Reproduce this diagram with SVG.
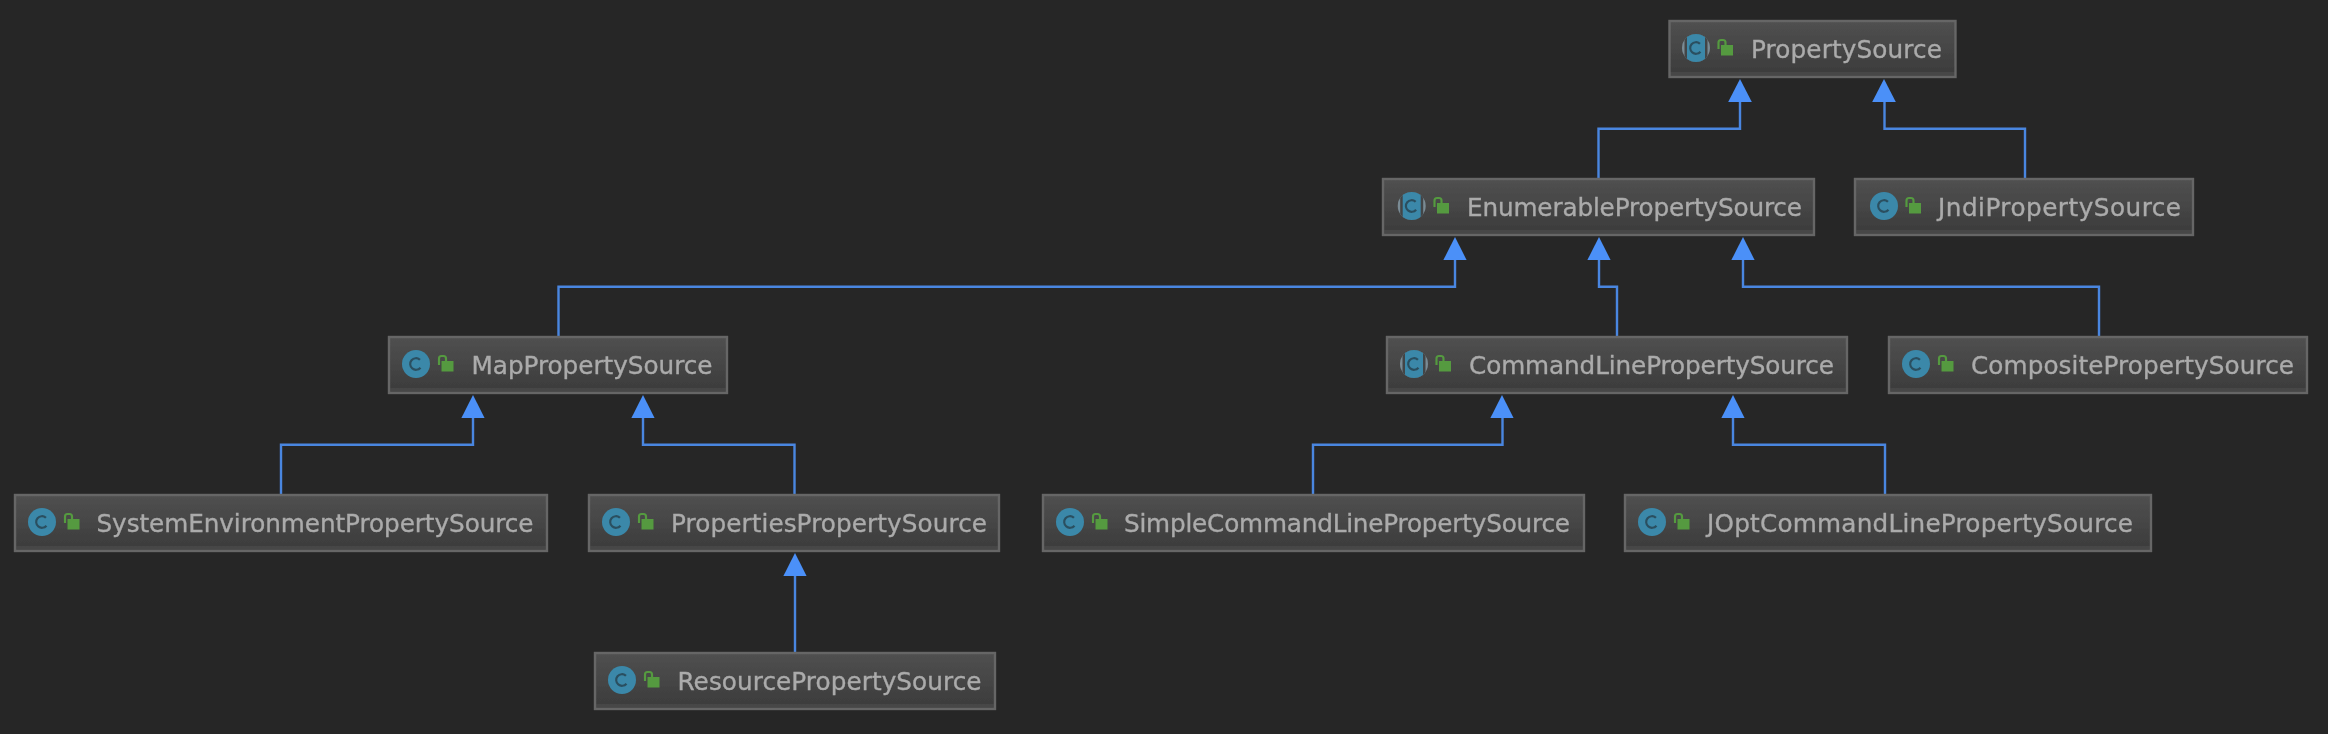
<svg xmlns="http://www.w3.org/2000/svg" width="2328" height="734" viewBox="0 0 2328 734">
<style>
.box{fill:url(#boxfill);stroke:#666666;stroke-width:2.4}
.label{font-family:"DejaVu Sans","Liberation Sans",sans-serif;font-size:24.7px;fill:#ababab;stroke:#ababab;stroke-width:0.35}
.edge{fill:none;stroke:#4a86e0;stroke-width:2.4}
.head{fill:#4b90f8}
.soft{filter:url(#soft)}
</style>
<defs>
<linearGradient id="boxfill" x1="0" y1="0" x2="0" y2="1">
<stop offset="0" stop-color="#505050"/>
<stop offset="0.9" stop-color="#3d3d3d"/>
<stop offset="0.92" stop-color="#464646"/>
<stop offset="1" stop-color="#464646"/>
</linearGradient>
<filter id="soft" filterUnits="userSpaceOnUse" x="0" y="0" width="2328" height="734">
<feGaussianBlur stdDeviation="0.6"/>
</filter>
<clipPath id="disc"><circle r="14"/></clipPath>
<g id="lock">
<rect x="4" y="-3" width="12" height="10.5" fill="#549a3f"/>
<path d="M1.5 1V-5.5Q1.5 -8 4 -8H6Q8.5 -8 8.5 -5.5V-3" fill="none" stroke="#549a3f" stroke-width="2.2"/>
</g>
<g id="cls">
<circle r="14" fill="#3a88a9"/>
<circle r="5.8" fill="none" stroke="#2c4f60" stroke-width="2.2" stroke-dasharray="27 9.5" transform="rotate(40)"/>
</g>
<g id="abs">
<circle r="14" fill="#7a8b94"/>
<g clip-path="url(#disc)">
<rect x="-11.5" y="-14" width="23" height="28" fill="#434547"/>
<rect x="-9" y="-14" width="18" height="28" fill="#3a88a9"/>
</g>
<circle r="5.8" fill="none" stroke="#2c4f60" stroke-width="2.2" stroke-dasharray="27 9.5" transform="rotate(40)"/>
</g>
</defs>
<rect width="2328" height="734" fill="#262626"/>
<g id="connectors" class="soft">
<path class="edge" d="M1598.5 178V128.7H1740V100"/><polygon class="head" points="1740,79 1751.8,102 1728.2,102"/>
<path class="edge" d="M2025 178V128.7H1884.5V100"/><polygon class="head" points="1884,79 1895.8,102 1872.2,102"/>
<path class="edge" d="M558.5 336V286.7H1455V258"/><polygon class="head" points="1455,237 1466.6,260 1443.4,260"/>
<path class="edge" d="M1617 336V286.7H1599V258"/><polygon class="head" points="1599,237 1610.6,260 1587.4,260"/>
<path class="edge" d="M2099 336V286.7H1743V258"/><polygon class="head" points="1743,237 1754.6,260 1731.4,260"/>
<path class="edge" d="M281 494V444.7H473V416"/><polygon class="head" points="473,395 484.6,418 461.4,418"/>
<path class="edge" d="M794.5 494V444.7H643V416"/><polygon class="head" points="643,395 654.6,418 631.4,418"/>
<path class="edge" d="M1313 494V444.7H1502.5V416"/><polygon class="head" points="1502,395 1513.6,418 1490.4,418"/>
<path class="edge" d="M1885 494V444.7H1733V416"/><polygon class="head" points="1733,395 1744.6,418 1721.4,418"/>
<path class="edge" d="M795 652V574"/><polygon class="head" points="795,553 806.6,576 783.4,576"/>
</g>
<g id="nodes" class="soft">
<g id="PropertySource"><rect class="box" x="1669.5" y="21" width="286" height="56"/><use href="#abs" x="1696" y="48"/><use href="#lock" x="1717" y="48"/><text class="label" x="1751" y="58" textLength="191">PropertySource</text></g>
<g id="EnumerablePropertySource"><rect class="box" x="1383" y="179" width="431" height="56"/><use href="#abs" x="1411.7" y="206"/><use href="#lock" x="1433" y="206"/><text class="label" x="1467" y="216" textLength="335">EnumerablePropertySource</text></g>
<g id="JndiPropertySource"><rect class="box" x="1855" y="179" width="338" height="56"/><use href="#cls" x="1884" y="206"/><use href="#lock" x="1905" y="206"/><text class="label" x="1938" y="216" textLength="243">JndiPropertySource</text></g>
<g id="MapPropertySource"><rect class="box" x="389" y="337" width="338" height="56"/><use href="#cls" x="416" y="364"/><use href="#lock" x="437.5" y="364"/><text class="label" x="471.5" y="374" textLength="241">MapPropertySource</text></g>
<g id="CommandLinePropertySource"><rect class="box" x="1387" y="337" width="460" height="56"/><use href="#abs" x="1414" y="364"/><use href="#lock" x="1435" y="364"/><text class="label" x="1469" y="374" textLength="365">CommandLinePropertySource</text></g>
<g id="CompositePropertySource"><rect class="box" x="1889" y="337" width="418" height="56"/><use href="#cls" x="1916" y="364"/><use href="#lock" x="1937.5" y="364"/><text class="label" x="1971" y="374" textLength="323">CompositePropertySource</text></g>
<g id="SystemEnvironmentPropertySource"><rect class="box" x="15" y="495" width="532" height="56"/><use href="#cls" x="42" y="522"/><use href="#lock" x="63.5" y="522"/><text class="label" x="96.5" y="532" textLength="437">SystemEnvironmentPropertySource</text></g>
<g id="PropertiesPropertySource"><rect class="box" x="589" y="495" width="410" height="56"/><use href="#cls" x="616" y="522"/><use href="#lock" x="637.5" y="522"/><text class="label" x="671" y="532" textLength="316">PropertiesPropertySource</text></g>
<g id="SimpleCommandLinePropertySource"><rect class="box" x="1043" y="495" width="541" height="56"/><use href="#cls" x="1070" y="522"/><use href="#lock" x="1091.5" y="522"/><text class="label" x="1124" y="532" textLength="446">SimpleCommandLinePropertySource</text></g>
<g id="JOptCommandLinePropertySource"><rect class="box" x="1625" y="495" width="526" height="56"/><use href="#cls" x="1652" y="522"/><use href="#lock" x="1673.5" y="522"/><text class="label" x="1707" y="532" textLength="426">JOptCommandLinePropertySource</text></g>
<g id="ResourcePropertySource"><rect class="box" x="595" y="653" width="400" height="56"/><use href="#cls" x="622" y="680"/><use href="#lock" x="643.5" y="680"/><text class="label" x="677.5" y="690" textLength="304">ResourcePropertySource</text></g>
</g>
</svg>
